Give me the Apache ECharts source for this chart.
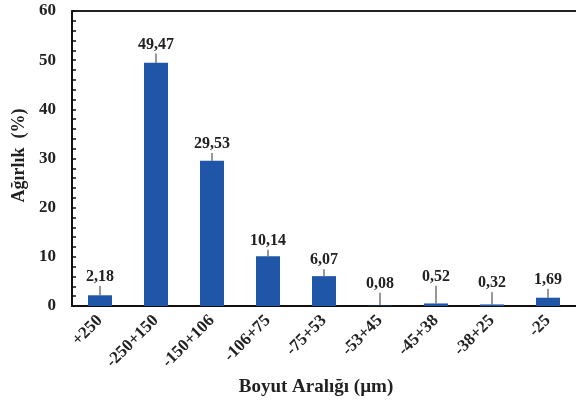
<!DOCTYPE html>
<html>
<head>
<meta charset="utf-8">
<script src="https://cdn.jsdelivr.net/npm/echarts@6/dist/echarts.min.js"></script>
<style>
  html, body { margin: 0; padding: 0; background: #fff; }
  #chart { width: 576px; height: 407px; }
</style>
</head>
<body>
<div id="chart"></div>
<script>
// Size fractions and their weight share
const categories = ['+250', '-250+150', '-150+106', '-106+75', '-75+53', '-53+45', '-45+38', '-38+25', '-25'];
const weights = [2.18, 49.47, 29.53, 10.14, 6.07, 0.08, 0.52, 0.32, 1.69];
// Upper error for each fraction
const errors = [1.9, 1.9, 1.6, 1.3, 1.4, 2.6, 3.6, 2.5, 1.8];
const yTicks = [0, 10, 20, 30, 40, 50, 60];

const FONT = '"Liberation Serif", "Times New Roman", serif';
const fmt = v => v.toFixed(2).replace('.', ',');

const chart = echarts.init(document.getElementById('chart'));

chart.setOption({
  animation: false,
  grid: { left: 72, right: -4, top: 11, bottom: 101 },
  xAxis: [{
    type: 'category',
    data: categories,
    axisLine: { lineStyle: { color: '#111', width: 2 } },
    axisTick: { show: false },
    axisLabel: {
      rotate: 45, margin: 12, interval: 0,
      fontFamily: FONT, fontWeight: 'bold', fontSize: 17, color: '#222'
    },
    name: 'Boyut Aralığı (µm)',
    nameLocation: 'middle', nameGap: 67,
    nameTextStyle: { fontFamily: FONT, fontWeight: 'bold', fontSize: 19, color: '#222', padding: [0, 16, 0, 0] }
  }, {
    type: 'category',
    position: 'top',
    data: categories,
    axisLine: { lineStyle: { color: '#222', width: 2 } },
    axisTick: { show: false },
    axisLabel: { show: false }
  }],
  yAxis: {
    type: 'value',
    min: yTicks[0], max: yTicks[yTicks.length - 1], interval: 10,
    axisLine: { show: true, lineStyle: { color: '#111', width: 2 } },
    axisTick: { show: true, inside: true, length: 4, lineStyle: { color: '#111', width: 1.5 } },
    minorTick: { show: true, splitNumber: 5, length: 4, lineStyle: { color: '#111', width: 1.5 } },
    splitLine: { show: false },
    axisLabel: {
      margin: 16,
      fontFamily: FONT, fontWeight: 'bold', fontSize: 17, color: '#222'
    },
    name: 'Ağırlık  (%)',
    nameLocation: 'middle', nameGap: 44, nameRotate: 90,
    nameTextStyle: { fontFamily: FONT, fontWeight: 'bold', fontSize: 18, color: '#222', padding: [0, 0, 0, 6] }
  },
  series: [{
    type: 'bar',
    data: weights,
    barWidth: 24,
    itemStyle: { color: '#1F56A8' }
  }, {
    type: 'custom',
    data: weights.map((w, i) => [i, w, errors[i]]),
    renderItem: function (params, api) {
      const base = api.coord([api.value(0), api.value(1)]);
      const top = api.coord([api.value(0), api.value(1) + api.value(2)]);
      return {
        type: 'group',
        children: [{
          type: 'line',
          shape: { x1: base[0], y1: base[1], x2: top[0], y2: top[1] },
          style: { stroke: '#333', lineWidth: 1 }
        }, {
          type: 'text',
          style: {
            x: top[0], y: top[1] - 1,
            text: fmt(api.value(1)),
            textAlign: 'center', textVerticalAlign: 'bottom',
            font: 'bold 16px ' + FONT,
            fill: '#222'
          }
        }]
      };
    },
    z: 5
  }]
});
</script>
</body>
</html>
